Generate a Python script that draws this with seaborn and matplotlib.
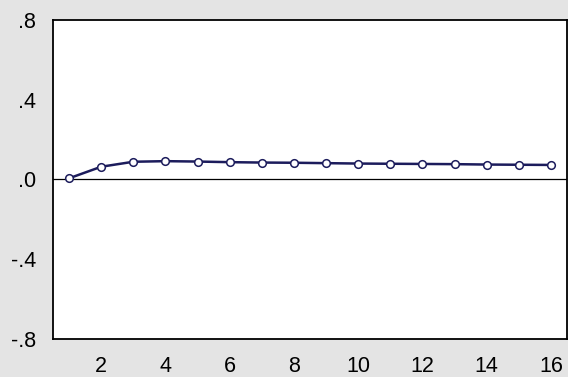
import numpy as np
import pandas as pd
import matplotlib
matplotlib.use('Agg')
import matplotlib.pyplot as plt
import seaborn as sns

# Response values per period
periods = list(range(1, 17))
response = [0.006, 0.064, 0.089, 0.092, 0.090, 0.087, 0.085, 0.084,
            0.082, 0.080, 0.079, 0.078, 0.077, 0.075, 0.074, 0.073]
y_ticks = [0.8, 0.4, 0.0, -0.4, -0.8]
y_tick_labels = ['.8', '.4', '.0', '-.4', '-.8']
x_tick_labels = [2, 4, 6, 8, 10, 12, 14, 16]

df = pd.DataFrame({'period': periods, 'response': response})

sns.set_style('white')
plt.rcParams['font.family'] = ['Liberation Sans', 'DejaVu Sans']

fig = plt.figure(figsize=(5.68, 3.77), dpi=100)
fig.patch.set_facecolor('#e4e4e4')
ax = fig.add_axes([53 / 568, 1 - 339 / 377, 514 / 568, 319 / 377])
ax.set_facecolor('white')

ax.axhline(0, color='black', linewidth=0.9, zorder=1)
sns.lineplot(data=df, x='period', y='response', ax=ax, color='#1c1c5c',
             linewidth=1.8, marker='o', markersize=5.5, markerfacecolor='white',
             markeredgecolor='#1c1c5c', markeredgewidth=1.1, zorder=3)

ax.set_xlim(0.5, 16.5)
ax.set_ylim(-0.8, 0.8)

# ticks between periods, labels on even periods
ax.set_xticks(np.arange(0.5, 17, 1.0))
ax.set_xticklabels([])
ax.set_xticks(x_tick_labels, minor=True)
ax.set_xticklabels([str(v) for v in x_tick_labels], minor=True)
ax.tick_params(axis='x', which='major', direction='out', length=7, width=1, color='black')
ax.tick_params(axis='x', which='minor', length=0, pad=12, labelsize=15.5,
               labelcolor='black')

ax.set_yticks(y_ticks)
ax.set_yticklabels(y_tick_labels)
ax.tick_params(axis='y', direction='out', length=7, width=1, color='black',
               labelsize=15.5, pad=5, labelcolor='black')

for s in ax.spines.values():
    s.set_visible(True)
    s.set_color('black')
    s.set_linewidth(1.3)

ax.set_xlabel('')
ax.set_ylabel('')
if ax.get_legend() is not None:
    ax.get_legend().remove()

fig.savefig('out.png', dpi=100, facecolor=fig.get_facecolor())
